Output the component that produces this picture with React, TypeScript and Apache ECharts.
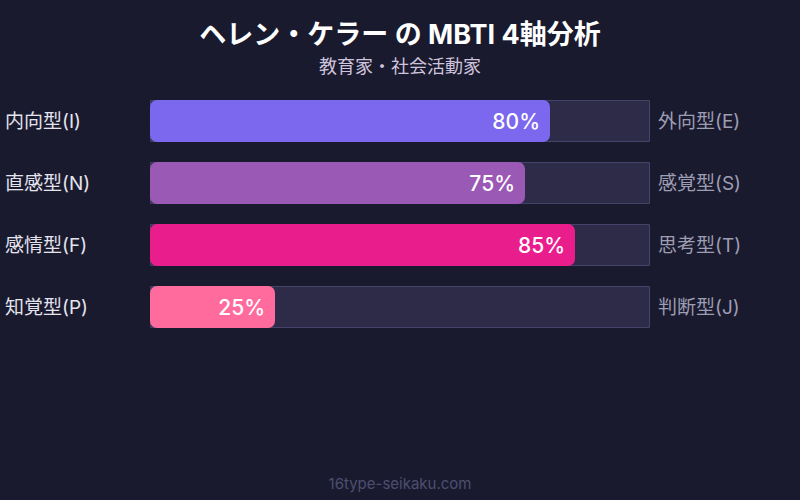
import React, { useEffect, useRef } from "react";
import * as echarts from "echarts";

const leftLabels = ["内向型(I)", "直感型(N)", "感情型(F)", "知覚型(P)"];
const rightLabels = ["外向型(E)", "感覚型(S)", "思考型(T)", "判断型(J)"];
const values = [80, 75, 85, 25];
const barColors = ["#7b68ee", "#9b59b6", "#e91e8c", "#ff6b9d"];
const fullScale = [100, 100, 100, 100];

const FONT = "Inter, 'Noto Sans CJK JP', sans-serif";

export default function App() {
  const ref = useRef<HTMLDivElement>(null);
  useEffect(() => {
    if (!ref.current) return;
    const chart = echarts.init(ref.current, null, { renderer: "svg" });
    chart.setOption({
      animation: false,
      backgroundColor: "#1a1a2e",
      textStyle: { fontFamily: FONT },
      title: {
        text: "ヘレン・ケラー の MBTI 4軸分析",
        subtext: "教育家・社会活動家",
        left: "center",
        top: 16,
        itemGap: 10,
        textStyle: { color: "#ffffff", fontSize: 27, fontWeight: "bold", fontFamily: FONT },
        subtextStyle: { color: "#cfc4dd", fontSize: 18, fontFamily: FONT },
      },
      grid: { left: 150, right: 150, top: 90, height: 248 },
      xAxis: {
        type: "value",
        min: 0,
        max: 100,
        show: false,
      },
      yAxis: [
        {
          type: "category",
          data: leftLabels,
          inverse: true,
          position: "left",
          axisLine: { show: false },
          axisTick: { show: false },
          axisLabel: {
            align: "left",
            margin: 145,
            color: "#e4e4ee",
            fontSize: 19,
            fontFamily: FONT,
            padding: [0, 0, 8, 0],
          },
        },
        {
          type: "category",
          data: rightLabels,
          inverse: true,
          position: "right",
          axisLine: { show: false },
          axisTick: { show: false },
          axisLabel: {
            align: "left",
            margin: 8,
            color: "#9d9db4",
            fontSize: 19,
            fontFamily: FONT,
            padding: [0, 0, 8, 0],
          },
        },
      ],
      series: [
        {
          type: "bar",
          data: fullScale,
          barWidth: 42,
          barGap: "-100%",
          silent: true,
          itemStyle: { color: "#2d2b48", borderColor: "#45436a", borderWidth: 1 },
          z: 1,
        },
        {
          type: "bar",
          data: values.map((v, i) => ({ value: v, itemStyle: { color: barColors[i] } })),
          barWidth: 42,
          barGap: "-100%",
          itemStyle: { borderRadius: 7 },
          label: {
            show: true,
            position: "insideRight",
            distance: 10,
            formatter: "{c}%",
            color: "#ffffff",
            fontSize: 21,
            fontWeight: 500,
            fontFamily: FONT,
          },
          z: 2,
        },
      ],
      graphic: [
        {
          type: "text",
          left: "center",
          top: 476,
          style: {
            text: "16type-seikaku.com",
            fill: "#4e4e70",
            fontSize: 15,
            fontFamily: FONT,
          },
        },
      ],
    });
    return () => chart.dispose();
  }, []);
  return (
    <div
      ref={ref}
      style={{ position: "absolute", left: 0, top: 0, width: 800, height: 500 }}
    />
  );
}
